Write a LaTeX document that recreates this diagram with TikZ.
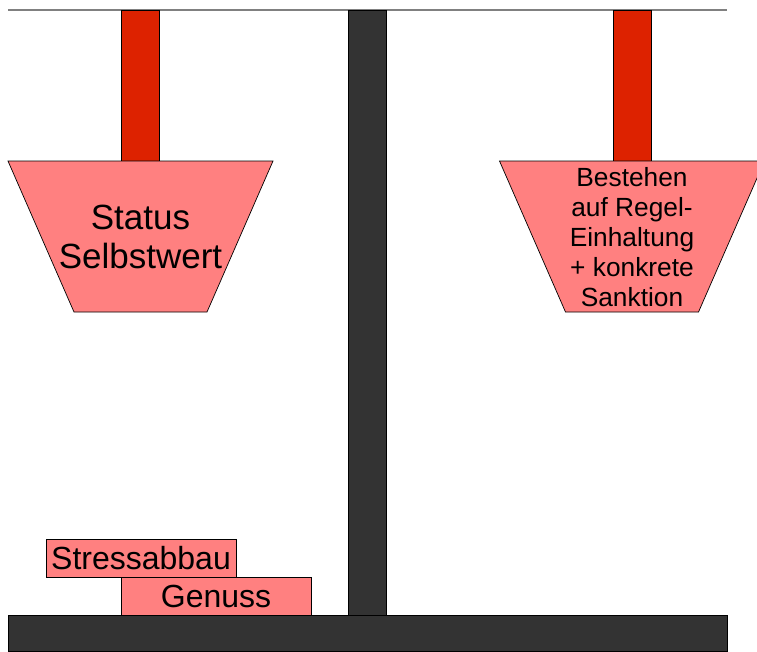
\documentclass[tikz,border=0pt]{standalone}
\usepackage{fontspec}
\setmainfont{Liberation Sans}
\pgfdeclarelayer{bg}
\pgfsetlayers{bg,main}
\definecolor{panred}{HTML}{FF8080}
\definecolor{rodred}{HTML}{DD2200}
\definecolor{beamgray}{HTML}{333333}
\tikzset{
    every node/.style={inner sep=0pt, outer sep=0pt},
    bar/.style={rectangle, draw=black, line width=0.7pt, anchor=north west},
    pan/.style={fill=panred, draw=black, line width=0.7pt},
    weight/.style={bar, fill=panred, minimum width=190, minimum height=38,
        font=\fontsize{32}{36}\selectfont}
}

\begin{document}
\begin{tikzpicture}[x=1pt,y=-1pt]
        \useasboundingbox (0,0) rectangle (757,651);
        \coordinate (tl) at (8,10);
        \coordinate (tr) at (727,10);
        \node (base) [bar, fill=beamgray, minimum width=719, minimum height=36] at (8,615) {};
        \node (pole) [bar, fill=beamgray, minimum width=38, minimum height=605] at (348,10) {};
        \node (lrod) [bar, fill=rodred, minimum width=38, minimum height=151] at (121,10) {};
        \node (rrod) [bar, fill=rodred, minimum width=38, minimum height=151] at (613,10) {};
        % pans
        \draw [pan] (8,161) -- (273,161) -- (207,312) -- (74,312) -- cycle;
        \draw [pan] (499.5,161) -- (764.5,161) -- (698.5,312) -- (565.5,312) -- cycle;
        \node (ltext) [align=center, font=\fontsize{35}{39}\selectfont] at (140.5,237) {Status\\Selbstwert};
        \node (rtext) [align=center, font=\fontsize{26.3}{30}\selectfont] at (632,237) {Bestehen\\auf Regel-\\Einhaltung\\+ konkrete\\Sanktion};
        \node (stress) [weight] at (46,539) {Stressabbau};
        \node (genuss) [weight] at (121,577) {Genuss};
        \begin{pgfonlayer}{bg}
                \draw [gray, line width=1.2pt] (tl) -- (tr);
        \end{pgfonlayer}
\end{tikzpicture}
\end{document}
